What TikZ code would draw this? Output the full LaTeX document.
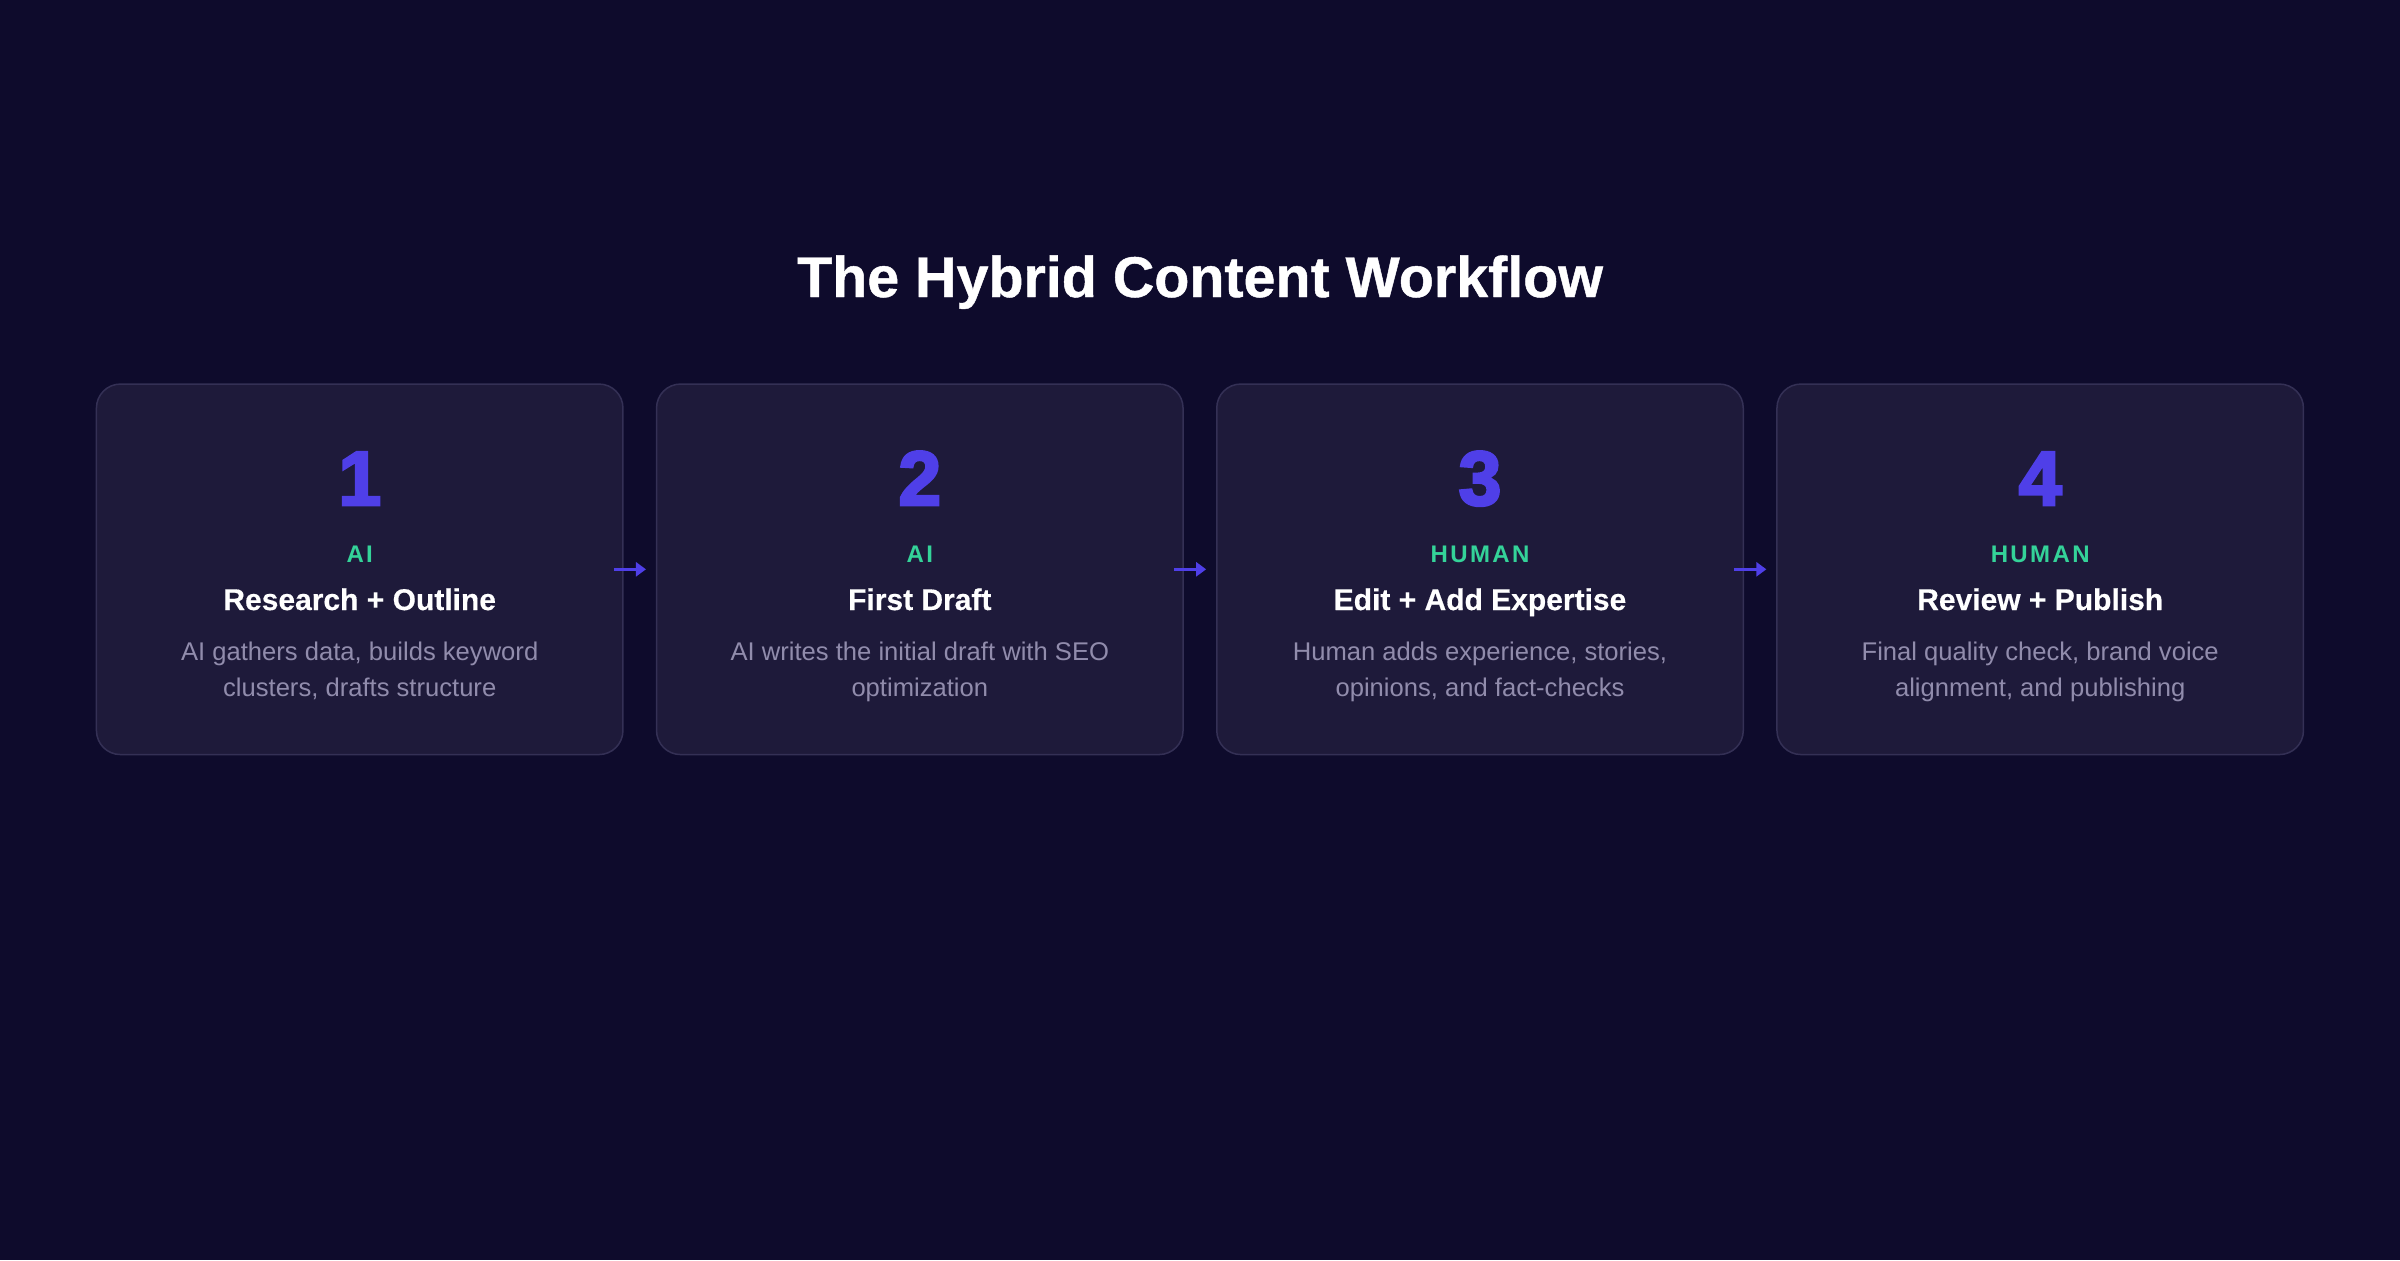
\documentclass[tikz,border=0pt]{standalone}
\usepackage{fontspec}
\setmainfont{Liberation Sans}
\usetikzlibrary{arrows.meta}
\definecolor{bgcol}{RGB}{14,11,44}
\definecolor{cardfill}{RGB}{30,26,58}
\definecolor{cardline}{RGB}{52,48,85}
\definecolor{indigo}{RGB}{79,63,232}
\definecolor{mint}{RGB}{52,211,153}
\definecolor{desccol}{RGB}{145,140,172}
\begin{document}
\begin{tikzpicture}[x=0.5pt,y=-0.5pt,
  card/.style={draw=cardline, line width=0.75pt, fill=cardfill, rounded corners=12pt,
    minimum width=263.25pt, minimum height=185.25pt, inner sep=0pt, outer sep=0pt},
  numtxt/.style={anchor=base, text=indigo, inner sep=0pt, font=\fontsize{38.4pt}{40pt}\selectfont\bfseries\addfontfeatures{FakeBold=3.5}},
  whotxt/.style={anchor=base, text=mint, inner sep=0pt, font=\fontsize{12pt}{14pt}\selectfont\bfseries\addfontfeatures{LetterSpace=10}},
  ttltxt/.style={anchor=base, text=white, inner sep=0pt, font=\fontsize{15pt}{18pt}\selectfont\bfseries\addfontfeatures{FakeBold=0.4}},
  desctxt/.style={anchor=base, text=desccol, inner sep=0pt, align=center, font=\fontsize{12.8pt}{18pt}\selectfont},
  flow/.style={draw=indigo, line width=1.5pt, -{Triangle[length=5pt,width=7pt]}},
  heading/.style={anchor=base, text=white, inner sep=0pt, font=\fontsize{28.7pt}{32pt}\selectfont\bfseries\addfontfeatures{FakeBold=0.8}}
]
\fill[bgcol] (0,0) rectangle (2400,1260);
\useasboundingbox (0,0) rectangle (2400,1260);

\node[heading] (head) at (1200,297) {The Hybrid Content Workflow};

\node[card] (c1) at (359.7,569.3) {};
\node[card] (c2) at (919.8,569.3) {};
\node[card] (c3) at (1480.0,569.3) {};
\node[card] (c4) at (2040.2,569.3) {};

\node[numtxt] (n1) at (359.7,505) {1};
\node[whotxt] (w1) at (359.7,562) {AI};
\node[ttltxt] (t1) at (359.7,610) {Research + Outline};
\node[desctxt] (d1) at (359.7,696) {AI gathers data, builds keyword\\clusters, drafts structure};

\node[numtxt] (n2) at (919.8,505) {2};
\node[whotxt] (w2) at (919.8,562) {AI};
\node[ttltxt] (t2) at (919.8,610) {First Draft};
\node[desctxt] (d2) at (919.8,696) {AI writes the initial draft with SEO\\optimization};

\node[numtxt] (n3) at (1480.0,505) {3};
\node[whotxt] (w3) at (1480.0,562) {HUMAN};
\node[ttltxt] (t3) at (1480.0,610) {Edit + Add Expertise};
\node[desctxt] (d3) at (1480.0,696) {Human adds experience, stories,\\opinions, and fact-checks};

\node[numtxt] (n4) at (2040.2,505) {4};
\node[whotxt] (w4) at (2040.2,562) {HUMAN};
\node[ttltxt] (t4) at (2040.2,610) {Review + Publish};
\node[desctxt] (d4) at (2040.2,696) {Final quality check, brand voice\\alignment, and publishing};

\draw[flow] ([xshift=-4.5pt]c1.east) -- ([xshift=-5.3pt]c2.west);
\draw[flow] ([xshift=-4.5pt]c2.east) -- ([xshift=-5.3pt]c3.west);
\draw[flow] ([xshift=-4.5pt]c3.east) -- ([xshift=-5.3pt]c4.west);
\end{tikzpicture}
\end{document}
